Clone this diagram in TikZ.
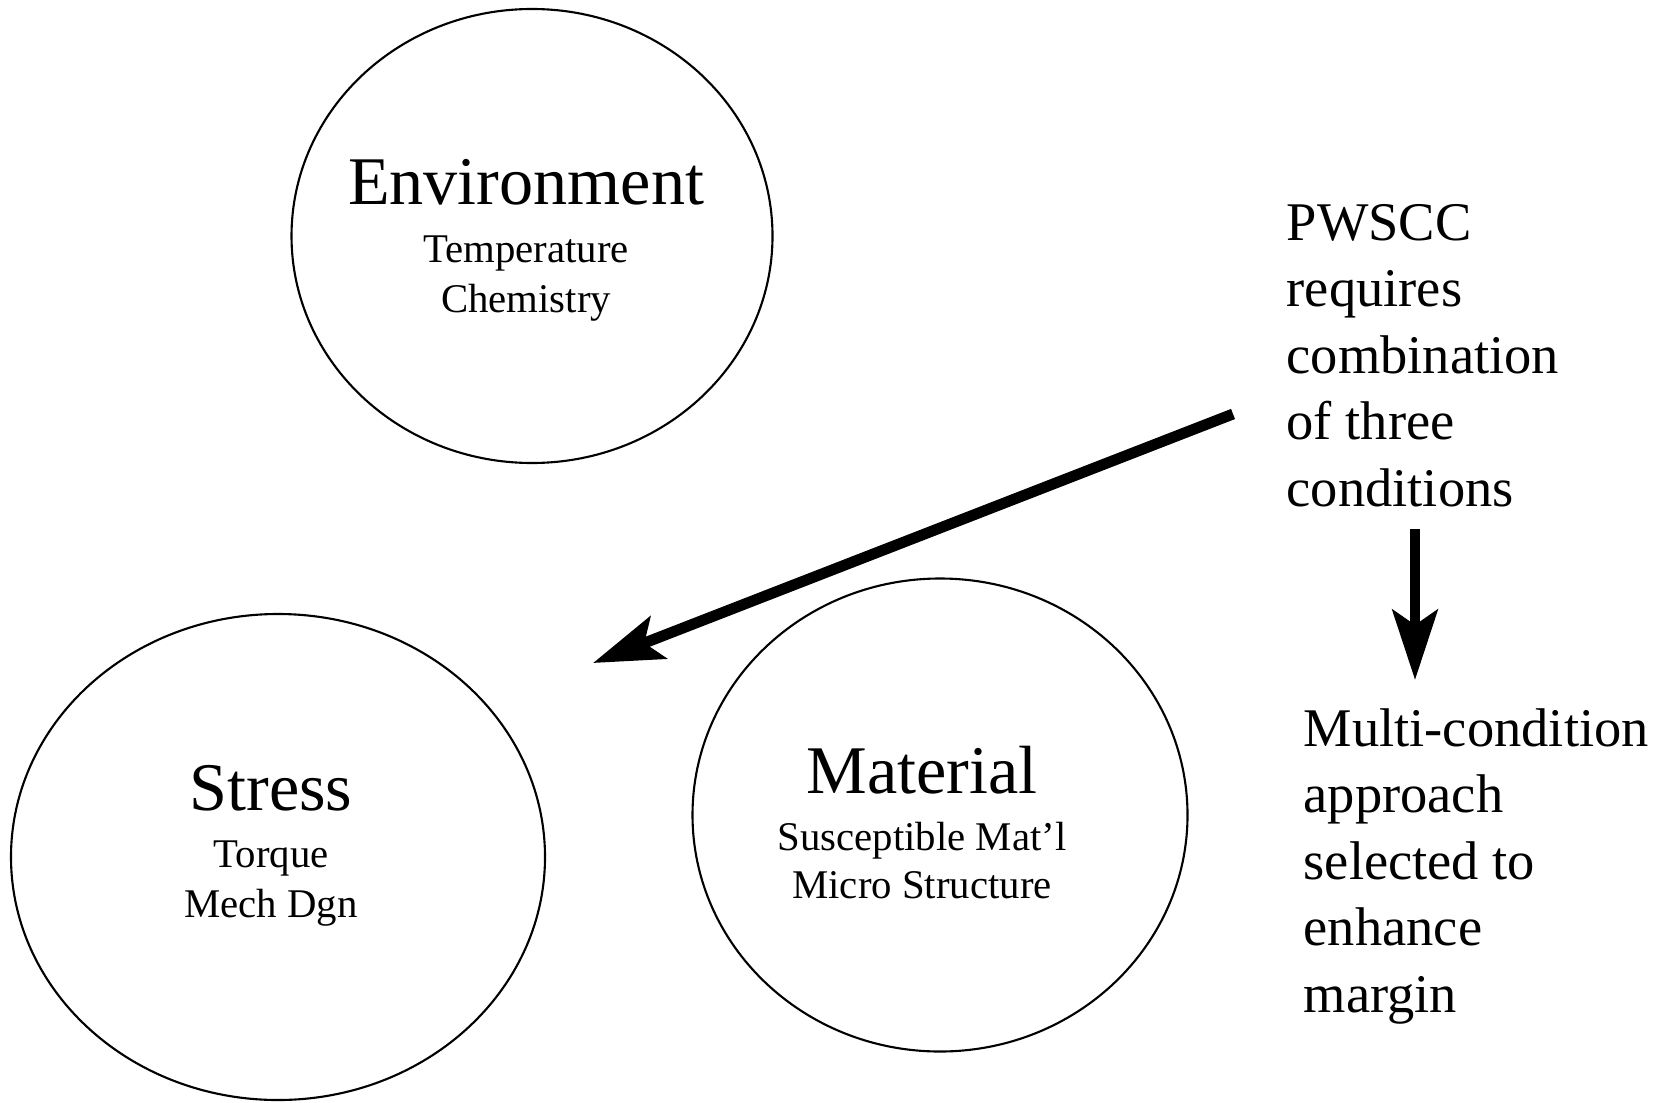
\documentclass[tikz,border=0pt]{standalone}
\usepackage{fontspec}
\setmainfont{Liberation Serif}
\usetikzlibrary{arrows.meta,shapes.geometric}

\begin{document}
\begin{tikzpicture}[
    ring/.style={draw,ellipse,line width=0.6pt,inner sep=0pt},
    title/.style={anchor=base,font=\fontsize{19.4}{23}\selectfont},
    sub/.style={anchor=base,font=\fontsize{11.6}{14}\selectfont},
    note/.style={anchor=base west,inner sep=0pt,font=\fontsize{15.5}{19}\selectfont},
    bigarrow/.style={line width=3.1pt,-{Stealth[length=0.7cm,width=0.45cm,inset=0.15cm]}}]
    \useasboundingbox (0,0) rectangle (16.64,11.02);
    % the three conditions
    \node[ring,minimum width=4.81cm,minimum height=4.54cm] (env) at (5.32,8.66) {};
    \node[ring,minimum width=5.34cm,minimum height=4.86cm] (stress) at (2.78,2.45) {};
    \node[ring,minimum width=4.95cm,minimum height=4.73cm] (mat) at (9.40,2.87) {};
    \node[title] (envT) at (5.26,8.97) {Environment};
    \node[sub] (envA) at (5.26,8.40) {Temperature};
    \node[sub] (envB) at (5.26,7.90) {Chemistry};
    \node[title] (stressT) at (2.71,2.92) {Stress};
    \node[sub] (stressA) at (2.71,2.35) {Torque};
    \node[sub] (stressB) at (2.71,1.85) {Mech Dgn};
    \node[title] (matT) at (9.22,3.09) {Material};
    \node[sub] (matA) at (9.22,2.52) {Susceptible Mat'l};
    \node[sub] (matB) at (9.22,2.04) {Micro Structure};
    % notes on the right
    \foreach \i/\txt in {0/PWSCC, 1/requires, 2/combination, 3/of three, 4/conditions}
    \node[note] (req\i) at (12.86,{8.62-0.665*\i}) {\txt};
    \foreach \i/\txt in {0/Multi-condition, 1/approach, 2/selected to, 3/enhance, 4/margin}
    \node[note] (app\i) at (13.03,{3.56-0.665*\i}) {\txt};
    % arrows
    \coordinate (reqtail) at (12.33,6.88);
    \coordinate (stresstip) at (5.93,4.39);
    \coordinate (apptail) at (14.15,5.73);
    \coordinate (apptip) at (14.15,4.22);
    \draw[bigarrow] (reqtail) -- (stresstip);
    \draw[bigarrow] (apptail) -- (apptip);
\end{tikzpicture}
\end{document}
